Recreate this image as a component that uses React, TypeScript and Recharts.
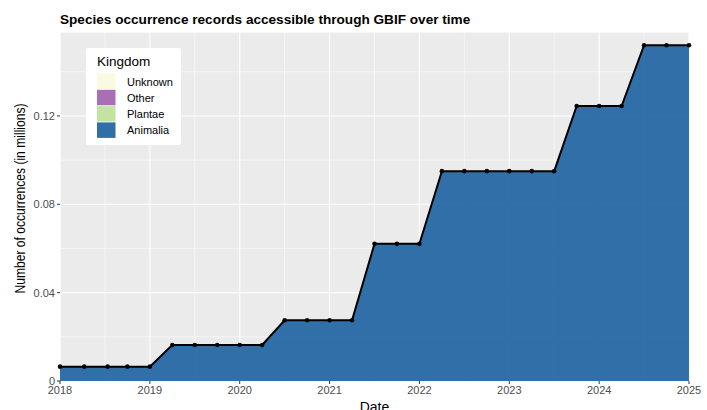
import { AreaChart, Area, XAxis, YAxis, CartesianGrid } from "recharts";

// snapshot dates (decimal years) and Animalia record counts (millions)
const dates = [
  2018, 2018.27, 2018.53, 2018.75, 2019, 2019.25, 2019.5, 2019.75, 2020, 2020.25,
  2020.5, 2020.75, 2021, 2021.25, 2021.5, 2021.75, 2022, 2022.25, 2022.5, 2022.75,
  2023, 2023.25, 2023.5, 2023.75, 2024, 2024.25, 2024.5, 2024.75, 2025,
];
const animalia = [
  0.0065, 0.0065, 0.0065, 0.0065, 0.0065, 0.0163, 0.0163, 0.0163, 0.0163, 0.0163,
  0.0275, 0.0275, 0.0275, 0.0275, 0.0621, 0.0621, 0.0621, 0.095, 0.095, 0.095,
  0.095, 0.095, 0.095, 0.1245, 0.1245, 0.1245, 0.152, 0.152, 0.152,
];

const xTicks = [2018, 2019, 2020, 2021, 2022, 2023, 2024, 2025];
const xMinor = [2018.5, 2019.5, 2020.5, 2021.5, 2022.5, 2023.5, 2024.5];
const yTicks = [0, 0.04, 0.08, 0.12];
const yMinor = [0.02, 0.06, 0.1, 0.14];

const kingdoms = ["Unknown", "Other", "Plantae", "Animalia"];
const kingdomColors = ["#fafae0", "#a86fb4", "#c2e3a1", "#2f6fa8"];

const data = dates.map((d, i) => ({ date: d, animalia: animalia[i] }));

const FONT = "'Liberation Sans', Arial, Helvetica, sans-serif";
const Y_MAX = 0.158;

// y title is drawn narrow, like the reference's condensed face
const YLabel = (props: any) => {
  const vb = props.viewBox;
  const cx = vb.x + 25;
  const cy = vb.y + vb.height / 2 - 8;
  return (
    <text
      x={cx}
      y={cy}
      transform={`rotate(-90 ${cx} ${cy})`}
      textAnchor="middle"
      fontFamily={FONT}
      fontSize={14.5}
      textLength={190}
      lengthAdjust="spacingAndGlyphs"
      fill="#000"
    >
      Number of occurrences (in millions)
    </text>
  );
};

const XLabel = (props: any) => {
  const vb = props.viewBox;
  return (
    <text
      x={vb.x + vb.width / 2}
      y={vb.y + 31}
      textAnchor="middle"
      fontFamily={FONT}
      fontSize={14}
      fill="#000"
    >
      Date
    </text>
  );
};

function KingdomLegend() {
  return (
    <svg
      width={96}
      height={98}
      style={{ position: "absolute", left: 86, top: 48 }}
    >
      <rect x={0} y={0} width={95} height={97} rx={2} fill="#fff" />
      <text x={11} y={18} fontFamily={FONT} fontSize={13.5} fill="#000">
        Kingdom
      </text>
      {kingdoms.map((k, i) => (
        <g key={k}>
          <rect
            x={11}
            y={25.5 + i * 16.3}
            width={18.5}
            height={15.5}
            fill={kingdomColors[i]}
          />
          <text
            x={41}
            y={37.5 + i * 16.3}
            fontFamily={FONT}
            fontSize={11}
            fill="#000"
          >
            {k}
          </text>
        </g>
      ))}
    </svg>
  );
}

export default function App() {
  return (
    <div
      style={{
        position: "absolute",
        left: 0,
        top: 0,
        width: 707,
        height: 410,
        background: "#fff",
        overflow: "hidden",
      }}
    >
      <div
        style={{
          position: "absolute",
          left: 60,
          top: 12.8,
          fontFamily: FONT,
          fontWeight: "bold",
          fontSize: 13.6,
          lineHeight: "14px",
          whiteSpace: "nowrap",
        }}
      >
        Species occurrence records accessible through GBIF over time
      </div>
      <AreaChart
        width={707}
        height={410}
        data={data}
        margin={{ top: 32, right: 18, bottom: 0, left: 0 }}
      >
        <XAxis
          xAxisId="minor"
          type="number"
          dataKey="date"
          domain={[2018, 2025]}
          ticks={xMinor}
          allowDataOverflow
          hide
        />
        <YAxis
          yAxisId="minor"
          type="number"
          domain={[0, Y_MAX]}
          ticks={yMinor}
          allowDataOverflow
          hide
        />
        <CartesianGrid
          xAxisId="minor"
          yAxisId="minor"
          fill="#ebebeb"
          stroke="#fff"
          strokeWidth={0.55}
        />
        <CartesianGrid stroke="#fff" strokeWidth={1.1} />
        <XAxis
          type="number"
          dataKey="date"
          domain={[2018, 2025]}
          ticks={xTicks}
          height={29}
          axisLine={false}
          tickLine={{ stroke: "#333" }}
          tickSize={3}
          tickMargin={2}
          tick={{ fill: "#4d4d4d", fontSize: 11, fontFamily: FONT }}
          label={<XLabel />}
        />
        <YAxis
          type="number"
          domain={[0, Y_MAX]}
          ticks={yTicks}
          width={60}
          axisLine={false}
          tickLine={{ stroke: "#333" }}
          tickSize={3}
          tickMargin={2}
          tick={{ fill: "#4d4d4d", fontSize: 11, fontFamily: FONT }}
          tickFormatter={(v: number) => (v === 0 ? "0" : v.toFixed(2))}
          allowDataOverflow
          label={<YLabel />}
        />
        <Area
          type="linear"
          dataKey="animalia"
          name="Animalia"
          fill="#2668a4"
          fillOpacity={0.95}
          stroke="#000"
          strokeWidth={2}
          dot={{ r: 2.3, fill: "#000", stroke: "#000", strokeWidth: 0 }}
          activeDot={false}
          isAnimationActive={false}
        />
      </AreaChart>
      <KingdomLegend />
    </div>
  );
}
